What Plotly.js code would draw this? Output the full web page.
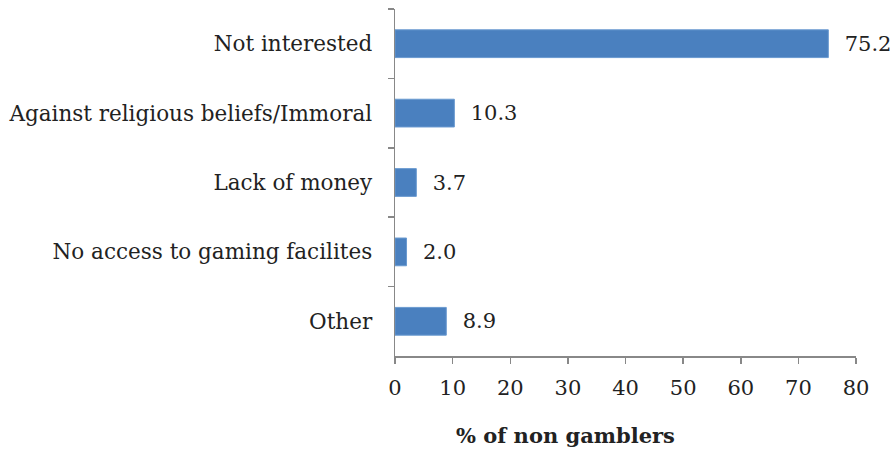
<!DOCTYPE html>
<html><head><meta charset="utf-8">
<script src="https://cdn.plot.ly/plotly-3.0.1.min.js"></script>
<style>body{margin:0;background:#fff}#c{width:890px;height:450px}</style>
</head><body><div id="c"></div>
<script>
const categories = ["Not interested","Against religious beliefs/Immoral","Lack of money","No access to gaming facilites","Other"];
const values = [75.2, 10.3, 3.7, 2.0, 8.9];
const labels = ["75.2","10.3","3.7","2.0","8.9"];
const xTicks = [0,10,20,30,40,50,60,70,80];
const xTitle = "% of non gamblers";

const font = "DejaVu Serif, serif";
const fs = 21.5;
Plotly.newPlot("c", [{
  type: "bar", orientation: "h",
  y: categories, x: values, text: labels.map(s => "\u00a0\u00a0" + s),
  textposition: "outside", cliponaxis: false,
  textfont: {family: font, size: 21, color: "#222"},
  marker: {color: "#4a80bf", line: {color: "#6a9ad0", width: 1}},
  hoverinfo: "none"
}], {
  width: 890, height: 450,
  margin: {l: 395, r: 34, t: 9, b: 94},
  paper_bgcolor: "#fff", plot_bgcolor: "#fff",
  bargap: 0.6,
  showlegend: false,
  font: {family: font, size: fs, color: "#222"},
  xaxis: {range: [0, 80], tickvals: xTicks, ticktext: xTicks.map(String),
    showgrid: false, zeroline: false, showline: true, linecolor: "#888", linewidth: 1.5,
    ticks: "outside", ticklen: 6, tickcolor: "#888", tickwidth: 1.5,
    ticklabelstandoff: 6,
    tickfont: {family: font, size: 21, color: "#222"}},
  yaxis: {autorange: "reversed", type: "category", showgrid: false, zeroline: false,
    showline: true, linecolor: "#888", linewidth: 1.5,
    ticks: "outside", tickson: "boundaries", ticklen: 6, tickcolor: "#888", tickwidth: 1.5,
    ticklabelstandoff: 17,
    tickfont: {family: font, size: fs, color: "#222"}},
  annotations: [{text: "<b>" + xTitle + "</b>", xref: "paper", yref: "paper",
    x: 0.369, y: -0.23, xanchor: "center", yanchor: "middle", showarrow: false,
    font: {family: font, size: 21, color: "#222"}}]
}, {staticPlot: true});
</script></body></html>
